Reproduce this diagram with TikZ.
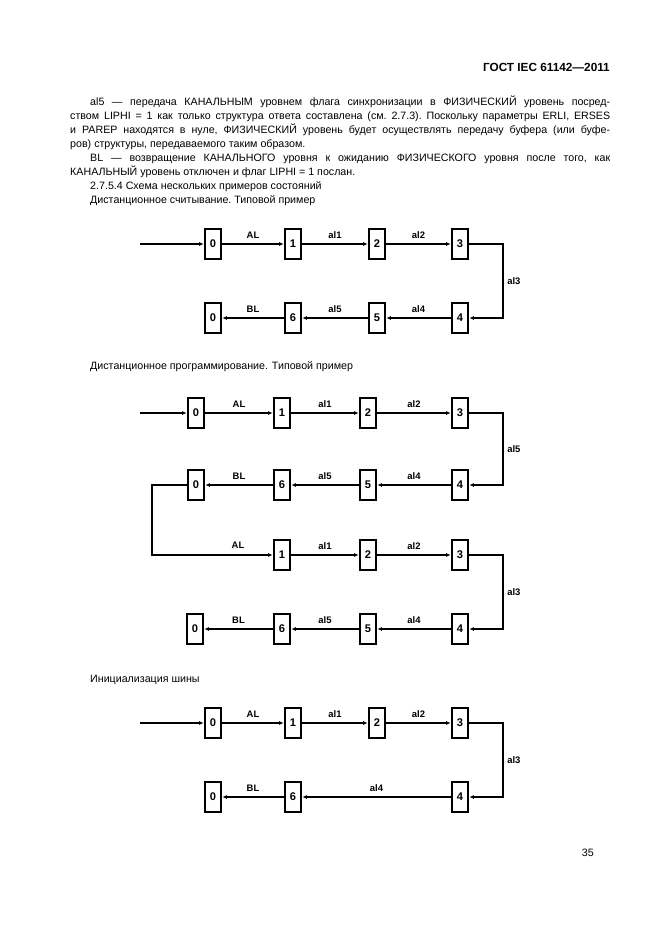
\documentclass[tikz,border=0pt]{standalone}
\usepackage{fontspec}
\setmainfont{Liberation Sans}
\usetikzlibrary{arrows.meta}

\begin{document}
\begin{tikzpicture}[x=0.9pt, y=-0.9pt,
    st/.style={draw, line width=1.8pt, minimum width=15pt, minimum height=27pt, inner sep=0pt, font=\bfseries\fontsize{10}{10}\selectfont},
    wire/.style={line width=1.8pt},
    flow/.style={wire, -{Latex[length=4pt, width=3.5pt]}},
    lab/.style={font=\bfseries\fontsize{8.5}{8.5}\selectfont, inner sep=1pt},
    txt/.style={font=\fontsize{9.6}{12.6}\selectfont, inner sep=0pt}]
    \useasboundingbox (0,0) rectangle (661,935);
    % Header and text:
    \node[anchor=east, font=\bfseries\fontsize{10.6}{12}\selectfont, inner sep=0pt] (head) at (610,67) {ГОСТ IEC 61142—2011};
    \node[txt, anchor=north west, text width=486pt, align=justify] (body) at (70,96) {\frenchspacing
        \hspace*{18pt}al5 — передача КАНАЛЬНЫМ уровнем флага синхронизации в ФИЗИЧЕСКИЙ уровень посред-\linebreak
        ством LIPHI = 1 как только структура ответа составлена (см. 2.7.3). Поскольку параметры ERLI, ERSES\linebreak
        и PAREP находятся в нуле, ФИЗИЧЕСКИЙ уровень будет осуществлять передачу буфера (или буфе-\linebreak
        ров) структуры, передаваемого таким образом.\par
        \hspace*{18pt}BL — возвращение КАНАЛЬНОГО уровня к ожиданию ФИЗИЧЕСКОГО уровня после того, как\linebreak
        КАНАЛЬНЫЙ уровень отключен и флаг LIPHI = 1 послан.\par
        \hspace*{18pt}2.7.5.4 Схема нескольких примеров состояний\par
        \hspace*{18pt}Дистанционное считывание. Типовой пример\par};
    \node[txt, anchor=west] (sub2) at (90,367) {Дистанционное программирование. Типовой пример};
    \node[txt, anchor=west] (sub3) at (90,680) {Инициализация шины};
    \node[txt, anchor=east] (page) at (594,853) {35};

    % Remote reading:
    \coordinate (a-in) at (140,244);
    \node[st] (a0) at (213,244) {0};
    \node[st] (a1) at (293,244) {1};
    \node[st] (a2) at (377,244) {2};
    \node[st] (a3) at (460,244) {3};
    \node[st] (a4) at (460,318) {4};
    \node[st] (a5) at (377,318) {5};
    \node[st] (a6) at (293,318) {6};
    \node[st] (a7) at (213,318) {0};
    \coordinate (a-r) at (503,244);
    \draw[flow] (a-in) -- (a0);
    \draw[flow] (a0) -- node[lab, above=3pt] {AL} (a1);
    \draw[flow] (a1) -- node[lab, above=3pt] {al1} (a2);
    \draw[flow] (a2) -- node[lab, above=3pt] {al2} (a3);
    \draw[flow] (a3) -| (a-r) |- node[lab, right=2pt, pos=0.25] {al3} (a4);
    \draw[flow] (a4) -- node[lab, above=3pt] {al4} (a5);
    \draw[flow] (a5) -- node[lab, above=3pt] {al5} (a6);
    \draw[flow] (a6) -- node[lab, above=3pt] {BL} (a7);

    % Remote programming:
    \coordinate (b-in) at (140,413);
    \node[st] (b0) at (196,413) {0};
    \node[st] (b1) at (282,413) {1};
    \node[st] (b2) at (368,413) {2};
    \node[st] (b3) at (460,413) {3};
    \node[st] (b4) at (460,485) {4};
    \node[st] (b5) at (368,485) {5};
    \node[st] (b6) at (282,485) {6};
    \node[st] (b7) at (196,485) {0};
    \node[st] (b8) at (282,555) {1};
    \node[st] (b9) at (368,555) {2};
    \node[st] (b10) at (460,555) {3};
    \node[st] (b11) at (460,629) {4};
    \node[st] (b12) at (368,629) {5};
    \node[st] (b13) at (282,629) {6};
    \node[st] (b14) at (195,629) {0};
    \coordinate (b-r1) at (503,413);
    \coordinate (b-l) at (152,485);
    \coordinate (b-r2) at (503,555);
    \draw[flow] (b-in) -- (b0);
    \draw[flow] (b0) -- node[lab, above=3pt] {AL} (b1);
    \draw[flow] (b1) -- node[lab, above=3pt] {al1} (b2);
    \draw[flow] (b2) -- node[lab, above=3pt] {al2} (b3);
    \draw[flow] (b3) -| (b-r1) |- node[lab, right=2pt, pos=0.25] {al5} (b4);
    \draw[flow] (b4) -- node[lab, above=3pt] {al4} (b5);
    \draw[flow] (b5) -- node[lab, above=3pt] {al5} (b6);
    \draw[flow] (b6) -- node[lab, above=3pt] {BL} (b7);
    \draw[flow] (b7) -- (b-l) |- (b8);
    \node[lab] (b-al) at (238,545) {AL};
    \draw[flow] (b8) -- node[lab, above=3pt] {al1} (b9);
    \draw[flow] (b9) -- node[lab, above=3pt] {al2} (b10);
    \draw[flow] (b10) -| (b-r2) |- node[lab, right=2pt, pos=0.25] {al3} (b11);
    \draw[flow] (b11) -- node[lab, above=3pt] {al4} (b12);
    \draw[flow] (b12) -- node[lab, above=3pt] {al5} (b13);
    \draw[flow] (b13) -- node[lab, above=3pt] {BL} (b14);

    % Bus initialisation:
    \coordinate (c-in) at (140,723);
    \node[st] (c0) at (213,723) {0};
    \node[st] (c1) at (293,723) {1};
    \node[st] (c2) at (377,723) {2};
    \node[st] (c3) at (460,723) {3};
    \node[st] (c4) at (460,797) {4};
    \node[st] (c6) at (293,797) {6};
    \node[st] (c7) at (213,797) {0};
    \coordinate (c-r) at (503,723);
    \draw[flow] (c-in) -- (c0);
    \draw[flow] (c0) -- node[lab, above=3pt] {AL} (c1);
    \draw[flow] (c1) -- node[lab, above=3pt] {al1} (c2);
    \draw[flow] (c2) -- node[lab, above=3pt] {al2} (c3);
    \draw[flow] (c3) -| (c-r) |- node[lab, right=2pt, pos=0.25] {al3} (c4);
    \draw[flow] (c4) -- node[lab, above=3pt] {al4} (c6);
    \draw[flow] (c6) -- node[lab, above=3pt] {BL} (c7);
\end{tikzpicture}
\end{document}
